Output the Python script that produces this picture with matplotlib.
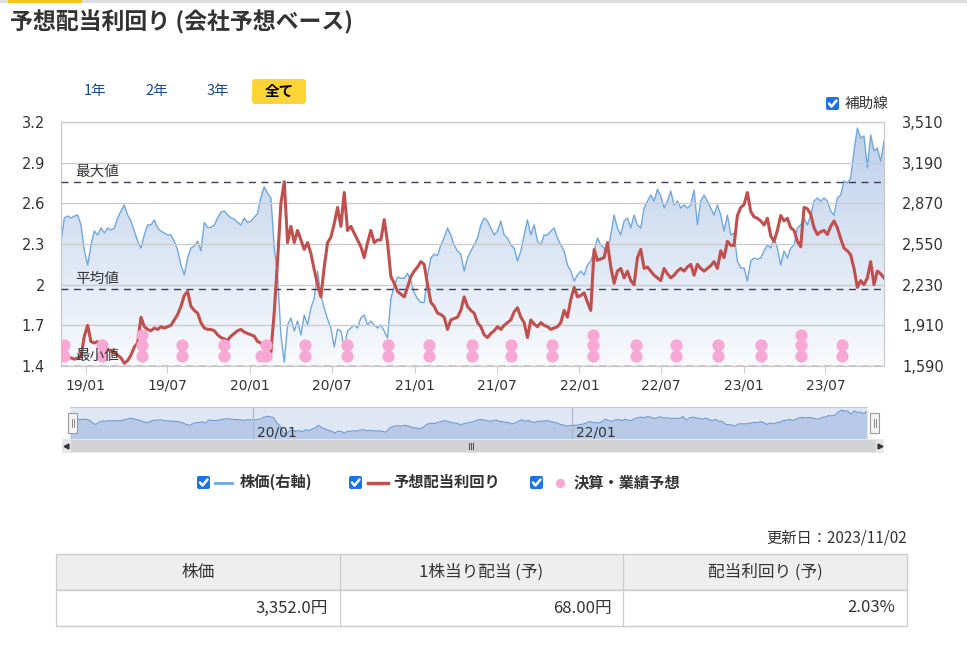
import numpy as np
import pandas as pd
import matplotlib
matplotlib.use('Agg')
import matplotlib.pyplot as plt
import matplotlib.dates as mdates
from matplotlib.patches import Rectangle, FancyBboxPatch
from matplotlib.colors import LinearSegmentedColormap

plt.rcParams['font.family'] = ['Noto Sans CJK JP', 'DejaVu Sans']

# roughly weekly samples
start_date = '2018-11-07'
end_date = '2023-11-08'

price = [
    2570, 2755, 2770, 2755, 2770, 2778, 2700, 2500, 2385, 2542,
    2652, 2621, 2676, 2636, 2676, 2660, 2676, 2755, 2810, 2857,
    2778, 2731, 2652, 2573, 2518, 2621, 2700, 2700, 2739, 2676,
    2652, 2636, 2621, 2621, 2573, 2503, 2385, 2306, 2440, 2518,
    2534, 2573, 2495, 2720, 2680, 2680, 2700, 2755, 2800, 2810,
    2780, 2755, 2745, 2720, 2700, 2755, 2720, 2730, 2760, 2790,
    2920, 3000, 2950, 2912, 2520, 2306, 1834, 1620, 1913, 1968,
    1865, 1944, 1834, 1991, 1913, 2046, 2125, 2337, 2149, 2046,
    1960, 1889, 1740, 1880, 1865, 1732, 1865, 1889, 1913, 1889,
    1968, 1991, 1913, 1944, 1913, 1889, 1913, 1865, 1810, 2120,
    2220, 2290, 2280, 2280, 2320, 2260, 2165, 2120, 2090, 2090,
    2300, 2440, 2470, 2460, 2542, 2600, 2676, 2620, 2540, 2495,
    2470, 2337, 2440, 2495, 2542, 2597, 2700, 2755, 2731, 2676,
    2621, 2652, 2731, 2621, 2597, 2542, 2518, 2416, 2495, 2621,
    2739, 2621, 2700, 2573, 2542, 2621, 2621, 2652, 2676, 2597,
    2542, 2495, 2385, 2337, 2259, 2306, 2337, 2306, 2385, 2416,
    2495, 2597, 2542, 2518, 2495, 2621, 2778, 2676, 2621, 2731,
    2755, 2676, 2778, 2700, 2676, 2833, 2888, 2935, 2888, 2980,
    2930, 2833, 2888, 2967, 2857, 2888, 2833, 2857, 2833, 2857,
    2975, 2700, 2888, 2935, 2888, 2833, 2778, 2857, 2778, 2652,
    2778, 2621, 2636, 2416, 2361, 2361, 2259, 2416, 2440, 2430,
    2440, 2495, 2542, 2518, 2597, 2518, 2385, 2495, 2440, 2518,
    2542, 2676, 2700, 2755, 2700, 2778, 2888, 2912, 2888, 2912,
    2888, 2810, 2778, 2912, 2935, 3046, 3030, 3069, 3282, 3463,
    3384, 3400, 3150, 3408, 3282, 3305, 3203, 3361,
]

div_yield = [
    1.48, 1.47, 1.47, 1.46, 1.45, 1.46, 1.47, 1.62, 1.70, 1.58,
    1.57, 1.58, 1.54, 1.53, 1.52, 1.51, 1.50, 1.48, 1.46, 1.42,
    1.44, 1.48, 1.54, 1.57, 1.76, 1.69, 1.67, 1.66, 1.68, 1.67,
    1.69, 1.68, 1.69, 1.70, 1.74, 1.78, 1.84, 1.92, 1.95, 1.84,
    1.81, 1.79, 1.72, 1.68, 1.67, 1.67, 1.66, 1.63, 1.61, 1.60,
    1.59, 1.62, 1.64, 1.66, 1.67, 1.65, 1.64, 1.63, 1.62, 1.58,
    1.57, 1.54, 1.52, 1.50, 1.80, 2.18, 2.60, 2.76, 2.31, 2.43,
    2.31, 2.40, 2.33, 2.26, 2.31, 2.23, 2.11, 2.00, 1.91, 2.13,
    2.31, 2.35, 2.45, 2.57, 2.43, 2.68, 2.40, 2.43, 2.38, 2.33,
    2.28, 2.20, 2.31, 2.40, 2.31, 2.33, 2.33, 2.48, 2.31, 2.06,
    2.01, 1.95, 1.93, 1.91, 1.98, 2.06, 2.10, 2.13, 2.17, 2.15,
    2.00, 1.87, 1.84, 1.79, 1.78, 1.76, 1.67, 1.74, 1.75, 1.76,
    1.81, 1.91, 1.84, 1.81, 1.79, 1.72, 1.69, 1.63, 1.61, 1.64,
    1.66, 1.69, 1.67, 1.70, 1.72, 1.74, 1.80, 1.83, 1.76, 1.72,
    1.61, 1.74, 1.71, 1.69, 1.72, 1.70, 1.69, 1.67, 1.68, 1.69,
    1.72, 1.81, 1.76, 1.89, 1.98, 1.91, 1.92, 1.94, 1.87, 1.81,
    2.26, 2.18, 2.19, 2.20, 2.31, 2.13, 2.01, 2.10, 2.12, 2.05,
    2.10, 2.03, 2.00, 2.20, 2.26, 2.12, 2.13, 2.10, 2.07, 2.05,
    2.03, 2.12, 2.08, 2.05, 2.07, 2.10, 2.12, 2.10, 2.13, 2.15,
    2.07, 2.15, 2.12, 2.10, 2.12, 2.14, 2.17, 2.12, 2.25, 2.20,
    2.32, 2.29, 2.29, 2.51, 2.57, 2.59, 2.68, 2.54, 2.50, 2.49,
    2.47, 2.44, 2.49, 2.36, 2.32, 2.40, 2.51, 2.47, 2.49, 2.42,
    2.40, 2.32, 2.28, 2.57, 2.56, 2.52, 2.42, 2.37, 2.39, 2.40,
    2.37, 2.43, 2.47, 2.42, 2.34, 2.27, 2.25, 2.22, 2.12, 1.98,
    2.03, 2.00, 2.05, 2.17, 2.00, 2.10, 2.08, 2.05,
]

# earnings / forecast events (number of markers stacked on that date)
event_dates = ['2018-11-13', '2019-02-05', '2019-05-05', '2019-08-02', '2019-11-03',
               '2020-01-24', '2020-02-04', '2020-05-01', '2020-08-02', '2020-11-01',
               '2021-01-31', '2021-05-08', '2021-08-03', '2021-11-02', '2022-02-01',
               '2022-05-07', '2022-08-04', '2022-11-05', '2023-02-09', '2023-05-08',
               '2023-08-07']
event_counts = [2, 2, 3, 2, 2, 1, 2, 2, 2, 2, 2, 2, 2, 2, 3, 2, 2, 2, 2, 3, 2]

yield_max, yield_avg, yield_min = 2.76, 1.97, 1.40

left_ticks = [1.4, 1.7, 2.0, 2.3, 2.6, 2.9, 3.2]
left_labels = ['1.4', '1.7', '2', '2.3', '2.6', '2.9', '3.2']
right_ticks = [1590, 1910, 2230, 2550, 2870, 3190, 3510]
x_tick_dates = ['2019-01-01', '2019-07-01', '2020-01-01', '2020-07-01', '2021-01-01',
                '2021-07-01', '2022-01-01', '2022-07-01', '2023-01-01', '2023-07-01']
x_tick_labels = ['19/01', '19/07', '20/01', '20/07', '21/01',
                 '21/07', '22/01', '22/07', '23/01', '23/07']
nav_tick_dates = ['2020-01-01', '2022-01-01']
nav_tick_labels = ['20/01', '22/01']

table_head = ['株価', '1株当り配当 (予)', '配当利回り (予)']
table_vals = ['3,352.0円', '68.00円', '2.03%']

RED = '#c0504d'
BLUE = '#70a8de'
PINK = '#f8a8d5'
TXT = '#333333'

dates = pd.date_range(start_date, end_date, periods=len(price))

fig = plt.figure(figsize=(9.67, 6.52), dpi=100)
W, H = 967, 652

# overlay in pixel coords for page decorations
deco = fig.add_axes([0, 0, 1, 1])
deco.set_xlim(0, W)
deco.set_ylim(H, 0)
deco.axis('off')


def checkbox(x, y, size=13):
    deco.add_patch(FancyBboxPatch((x, y), size, size,
                                  boxstyle='round,pad=0,rounding_size=2',
                                  fc='#1a73e8', ec='none'))
    deco.plot([x + 3, x + 5.5, x + 10.5], [y + 6.5, y + 9.5, y + 3.5],
              color='white', lw=1.8, solid_capstyle='round')


deco.add_patch(Rectangle((0, 0), W, 2.5, fc='#dddddd', ec='none'))
deco.add_patch(Rectangle((8, 0), 74, 2.5, fc='#f5c518', ec='none'))
deco.text(10, 22, '予想配当利回り (会社予想ベース)', fontsize=16.5, weight='bold',
          color=TXT, va='center')

for lbl, cx in zip(['1年', '2年', '3年'], [95, 157, 218]):
    deco.text(cx, 91, lbl, fontsize=10.5, color='#1c4a8c', ha='center', va='center')
deco.add_patch(FancyBboxPatch((252, 79), 54, 25, boxstyle='round,pad=0,rounding_size=3',
                              fc='#fdd435', ec='none'))
deco.text(279, 91, '全て', fontsize=10.5, weight='bold', color='black',
          ha='center', va='center')

checkbox(826, 97)
deco.text(845, 104, '補助線', fontsize=10.5, color=TXT, va='center')

# legend
checkbox(197, 476)
deco.plot([215, 232], [482.5, 482.5], color=BLUE, lw=2)
deco.text(240, 482, '株価(右軸)', fontsize=11, weight='bold', color=TXT, va='center')
checkbox(349, 476)
deco.plot([368, 388], [482.5, 482.5], color=RED, lw=2.5)
deco.text(393, 482, '予想配当利回り', fontsize=11, weight='bold', color=TXT, va='center')
checkbox(530, 476)
deco.scatter([560], [482.5], s=45, color=PINK, lw=0)
deco.text(574, 482, '決算・業績予想', fontsize=11, weight='bold', color=TXT, va='center')

# update date + table
deco.text(907, 538, '更新日：2023/11/02', fontsize=11, color=TXT, ha='right', va='center')
tx0, tx1 = 56, 907
cw = (tx1 - tx0) / 3
deco.add_patch(Rectangle((tx0, 554), tx1 - tx0, 36, fc='#eeeeee', ec='#cccccc', lw=1))
deco.add_patch(Rectangle((tx0, 590), tx1 - tx0, 36, fc='white', ec='#cccccc', lw=1))
for i in range(3):
    c0 = tx0 + i * cw
    if i > 0:
        deco.plot([c0, c0], [554, 626], color='#cccccc', lw=1)
    deco.text(c0 + cw / 2, 572, table_head[i], fontsize=12, color=TXT,
              ha='center', va='center')
    deco.text(c0 + cw - 12, 608, table_vals[i], fontsize=12, color=TXT,
              ha='right', va='center')

# scrollbar under the navigator
deco.add_patch(Rectangle((62, 439), 822, 14, fc='#e6e6e6', ec='none'))
deco.add_patch(Rectangle((71, 440), 805, 12, fc='#d3d3d3', ec='none'))
deco.plot([66], [446], marker='<', ms=3.5, color='#333333')
deco.plot([880], [446], marker='>', ms=3.5, color='#333333')
for dx in (-2, 0, 2):
    deco.plot([471 + dx, 471 + dx], [443, 449], color='#555555', lw=0.8)

# main chart
ax = fig.add_axes([61 / W, 1 - 366 / H, 823 / W, 244 / H])
ax2 = ax.twinx()
ax.set_zorder(ax2.get_zorder() + 1)
ax.patch.set_visible(False)

# price area with vertical gradient
poly = ax2.fill_between(dates, price, 1590, color='none', lw=0)
cmap = LinearSegmentedColormap.from_list('fade', ['#f8fafd', '#bccfea'])
grad = np.linspace(0, 1, 256).reshape(-1, 1)
img = ax2.imshow(grad, extent=[mdates.date2num(dates[0]), mdates.date2num(dates[-1]), 1590, 3510],
                 aspect='auto', cmap=cmap, origin='lower', zorder=0)
img.set_clip_path(poly.get_paths()[0], transform=ax2.transData)
ax2.plot(dates, price, color=BLUE, lw=1, zorder=2)
ax2.set_ylim(1590, 3510)
ax2.set_yticks(right_ticks)
ax2.set_yticklabels([f'{v:,}' for v in right_ticks], fontfamily='DejaVu Sans')
ax2.tick_params(axis='y', length=0, pad=13, labelsize=10.5, labelcolor=TXT)

ax.set_ylim(1.4, 3.2)
ax.set_yticks(left_ticks)
ax.set_yticklabels(left_labels, fontfamily='DejaVu Sans')
ax.tick_params(axis='y', length=0, pad=11.5, labelsize=10.5, labelcolor=TXT)
ax.yaxis.grid(True, color='#cccccc', lw=1)
ax.set_axisbelow(True)

for yv, lbl in [(yield_max, '最大値'), (yield_avg, '平均値'), (yield_min, '最小値')]:
    ax.axhline(yv, color='#3a3a5c', lw=1, ls=(0, (5, 4)), zorder=3)
    ax.annotate(lbl, xy=(0.017, yv), xycoords=('axes fraction', 'data'),
                xytext=(0, 2), textcoords='offset points', fontsize=10.5,
                color=TXT, va='bottom', zorder=6)

ax.plot(dates, div_yield, color=RED, lw=2.2, zorder=4, solid_joinstyle='round')

ev_x, ev_y = [], []
for d, n in zip(event_dates, event_counts):
    for i in range(n):
        ev_x.append(pd.Timestamp(d))
        ev_y.append(1.474 + 0.078 * i)
ax.scatter(ev_x, ev_y, s=78, color=PINK, lw=0, zorder=5)

ax.set_xlim(dates[0], dates[-1])
ax.set_xticks(pd.to_datetime(x_tick_dates))
ax.set_xticklabels(x_tick_labels, fontfamily='DejaVu Sans')
ax.tick_params(axis='x', length=5, color='#cccccc', pad=4, labelsize=10, labelcolor=TXT)
for a in (ax, ax2):
    for s in a.spines.values():
        s.set_color('#c8c8c8')

# navigator strip
nav = fig.add_axes([70 / W, 1 - 439 / H, 797 / W, 32 / H])
nav.set_facecolor('#dfe7f4')
nav.fill_between(dates, price, 1300, color='#b7c9e7', lw=0)
nav.plot(dates, price, color='#6d9ad5', lw=0.8)
nav.set_xlim(dates[0], dates[-1])
nav.set_ylim(1300, 3690)
for d, lbl in zip(nav_tick_dates, nav_tick_labels):
    nav.axvline(pd.Timestamp(d), color='#aab6c8', lw=0.8)
    nav.annotate(lbl, xy=(pd.Timestamp(d), 0), xycoords=('data', 'axes fraction'),
                 xytext=(3, 2), textcoords='offset points', fontsize=10,
                 fontfamily='DejaVu Sans', color=TXT)
nav.set_xticks([])
nav.set_yticks([])
for s in nav.spines.values():
    s.set_visible(False)
nav.spines['top'].set_visible(True)
nav.spines['top'].set_color('#c8c8c8')

# range handles
for hx in (68, 870):
    deco.add_patch(Rectangle((hx, 413), 9, 20, fc='#f4f4f4', ec='#999999', lw=0.8, zorder=5))
    for dx in (3.5, 5.5):
        deco.plot([hx + dx, hx + dx], [419, 427], color='#777777', lw=0.6, zorder=6)
deco.set_zorder(nav.get_zorder() + 1)

fig.savefig('out.png', dpi=100, facecolor='white')
